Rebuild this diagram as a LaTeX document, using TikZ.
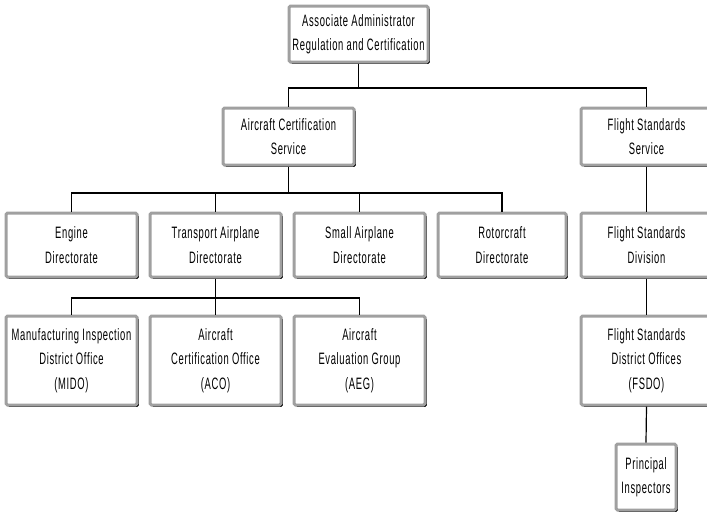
\documentclass[tikz,border=0pt]{standalone}
\usepackage{fontspec}
\setmainfont{Liberation Sans}[FakeStretch=0.57,LetterSpace=4]
\usetikzlibrary{shadows}
\definecolor{boxgray}{HTML}{A0A0A0}
\begin{document}
\begin{tikzpicture}[x=1pt,y=-1pt,
  orgbox/.style={draw=boxgray, line width=3pt, fill=white, rounded corners=1.5pt,
    align=center, inner sep=0pt, minimum width=131pt,
    font={\fontsize{16.5}{24.5}\selectfont},
    drop shadow={shadow xshift=1.8pt, shadow yshift=-1.8pt, fill=black, opacity=1}},
  link/.style={line width=1.2pt, black}]
\useasboundingbox (0,0) rectangle (707,512);
\clip (0,0) rectangle (707,512);
% nodes
\node[orgbox, minimum width=139pt, minimum height=56pt] (top) at (358.5,34) {Associate Administrator\\Regulation and Certification};
\node[orgbox, minimum height=57pt] (acs) at (288.5,136.5) {Aircraft Certification\\Service};
\node[orgbox, minimum height=57pt] (fss) at (646.5,136.5) {Flight Standards\\Service};
\node[orgbox, minimum height=64pt] (eng) at (71.5,245) {Engine\\Directorate};
\node[orgbox, minimum height=64pt] (tra) at (215.5,245) {Transport Airplane\\Directorate};
\node[orgbox, minimum height=64pt] (sma) at (359.5,245) {Small Airplane\\Directorate};
\node[orgbox, minimum width=128pt, minimum height=64pt] (rot) at (502,245) {Rotorcraft\\Directorate};
\node[orgbox, minimum height=64pt] (fsd) at (646.5,245) {Flight Standards\\Division};
\node[orgbox, minimum height=89pt] (mido) at (71.5,360.5) {Manufacturing Inspection\\District Office\\(MIDO)};
\node[orgbox, minimum height=89pt] (aco) at (215.5,360.5) {Aircraft\\Certification Office\\(ACO)};
\node[orgbox, minimum height=89pt] (aeg) at (359.5,360.5) {Aircraft\\Evaluation Group\\(AEG)};
\node[orgbox, minimum height=89pt] (fsdo) at (646.5,360.5) {Flight Standards\\District Offices\\(FSDO)};
\node[orgbox, minimum width=60pt, minimum height=66pt] (pi) at (646,477) {Principal\\Inspectors};
% branch points
\coordinate (b1) at (358.5,88);
\coordinate (b2) at (288.5,193);
\coordinate (b3) at (215.5,298);
% connectors
\draw[link] (top.south) -- (b1);
\draw[link] (acs.north) |- (b1) -| (fss.north);
\draw[link] (acs.south) -- (b2);
\draw[link] (eng.north) |- (b2) -| (rot.north);
\draw[link] (tra.north) -- (tra.north |- b2);
\draw[link] (sma.north) -- (sma.north |- b2);
\draw[link] (fss.south) -- (fsd.north);
\draw[link] (fsd.south) -- (fsdo.north);
\draw[link] (fsdo.south) -- (pi.north);
\draw[link] (tra.south) -- (b3);
\draw[link] (mido.north) |- (b3) -| (aeg.north);
\draw[link] (aco.north) -- (aco.north |- b3);
\end{tikzpicture}
\end{document}
